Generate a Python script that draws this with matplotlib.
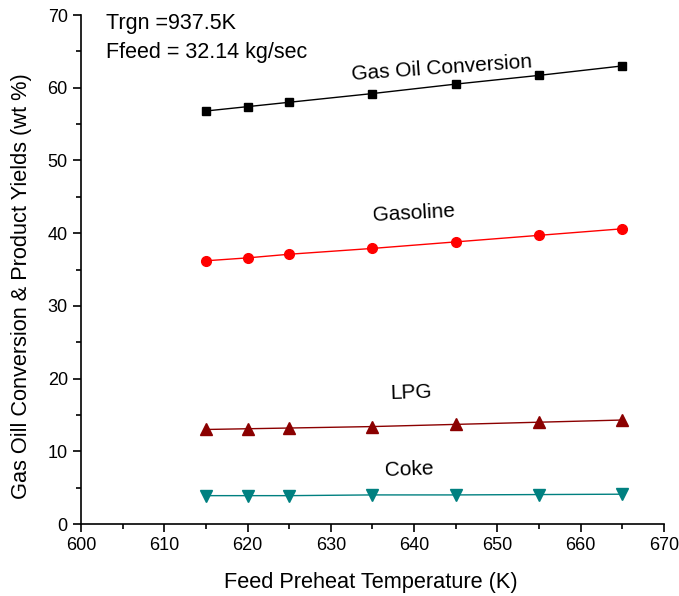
import matplotlib
matplotlib.use("Agg")
import matplotlib.pyplot as plt
from matplotlib.ticker import MultipleLocator

plt.rcParams["font.family"] = ["Liberation Sans", "DejaVu Sans"]

temp = [615, 620, 625, 635, 645, 655, 665]
conversion = [56.8, 57.4, 58.0, 59.2, 60.5, 61.7, 63.0]
gasoline = [36.2, 36.6, 37.1, 37.9, 38.8, 39.7, 40.6]
lpg = [13.0, 13.1, 13.2, 13.4, 13.7, 14.0, 14.3]
coke = [3.9, 3.9, 3.9, 4.0, 4.0, 4.05, 4.1]

fig = plt.figure(figsize=(6.79, 5.96), dpi=100)
ax = fig.add_axes([0.1193, 0.1208, 0.8586, 0.854])

ax.plot(temp, conversion, color="black", marker="s", ms=6, lw=1)
ax.plot(temp, gasoline, color="#ff0000", marker="o", ms=7, lw=1)
ax.plot(temp, lpg, color="#8b0000", marker="^", ms=8, lw=1)
ax.plot(temp, coke, color="#008080", marker="v", ms=8, lw=1)

ax.text(643.3, 62.7, "Gas Oil Conversion", fontsize=15, ha="center", va="center", rotation=4)
ax.text(640, 42.7, "Gasoline", fontsize=15, ha="center", va="center", rotation=3)
ax.text(639.6, 18.0, "LPG", fontsize=15, ha="center", va="center", rotation=2)
ax.text(639.4, 7.5, "Coke", fontsize=15, ha="center", va="center", rotation=2)
ax.text(603.0, 68.8, "Trgn =937.5K", fontsize=15.5, va="center")
ax.text(603.0, 64.9, "Ffeed = 32.14 kg/sec", fontsize=15.5, va="center")

ax.set_xlim(600, 670)
ax.set_ylim(0, 70)
ax.xaxis.set_major_locator(MultipleLocator(10))
ax.xaxis.set_minor_locator(MultipleLocator(5))
ax.yaxis.set_major_locator(MultipleLocator(10))
ax.yaxis.set_minor_locator(MultipleLocator(5))
ax.tick_params(which="major", direction="out", length=6, width=1.2, labelsize=13)
ax.tick_params(which="minor", direction="out", length=3.5, width=1.2)
ax.spines["top"].set_visible(False)
ax.spines["right"].set_visible(False)
ax.spines["left"].set_linewidth(1.2)
ax.spines["bottom"].set_linewidth(1.2)

ax.set_xlabel("Feed Preheat Temperature (K)", fontsize=15.7)
ax.set_ylabel("Gas Oill Conversion & Product Yields (wt %)", fontsize=15.7)
ax.xaxis.set_label_coords(0.497, -0.094)
ax.yaxis.set_label_coords(-0.084, 0.467)

fig.savefig("out.png", dpi=100)
